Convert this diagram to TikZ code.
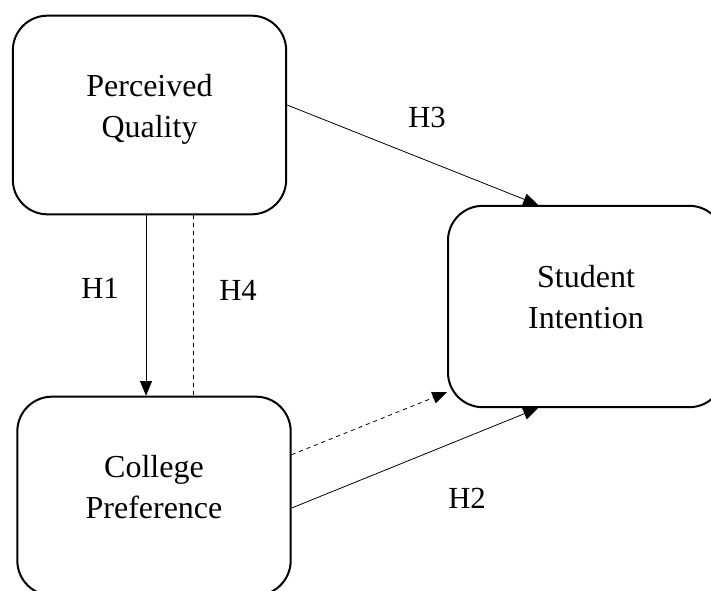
\documentclass[tikz,border=0pt]{standalone}
\usepackage{fontspec}
\setmainfont{Liberation Serif}
\usetikzlibrary{arrows.meta}

\begin{document}
\begin{tikzpicture}[
        x=0.75pt, y=-0.75pt,
        construct/.style={rectangle, draw, line width=1.5pt, rounded corners=26pt,
          minimum width=205pt, minimum height=149pt, align=center, text depth=14pt,
          font=\fontsize{24}{31}\selectfont},
        hyp/.style={font=\fontsize{23}{28}\selectfont},
        arr/.style={line width=0.6pt, -{Triangle[length=11pt,width=9pt]}}
      ]
      \useasboundingbox (0,0) rectangle (711,590);
      \node[construct] (pq) at (149.5,115) {Perceived\\Quality};
      \node[construct, minimum width=207pt, minimum height=151pt] (si) at (586,306.5) {Student\\Intention};
      \node[construct] (cp) at (154,496) {College\\Preference};

      \draw[arr] ([xshift=-2.6pt]pq.south) -- ([xshift=-2.6pt]pq.south |- cp.north);
      \draw[line width=0.6pt, dashed] ([xshift=32.6pt]pq.south) -- ([xshift=32.6pt]pq.south |- cp.north);
      \draw[arr] ([yshift=7.5pt]pq.east) -- ([xshift=-36pt]si.north);
      \draw[arr, dashed] ([yshift=31pt]cp.east) -- ([yshift=12pt]si.south west);
      \draw[arr] ([yshift=-9pt]cp.east) -- ([xshift=-36pt]si.south);

      \node[hyp] (h1) at (100,288) {H1};
      \node[hyp] (h4) at (238,290) {H4};
      \node[hyp] (h3) at (427,117) {H3};
      \node[hyp] (h2) at (467,498) {H2};
    \end{tikzpicture}
\end{document}
